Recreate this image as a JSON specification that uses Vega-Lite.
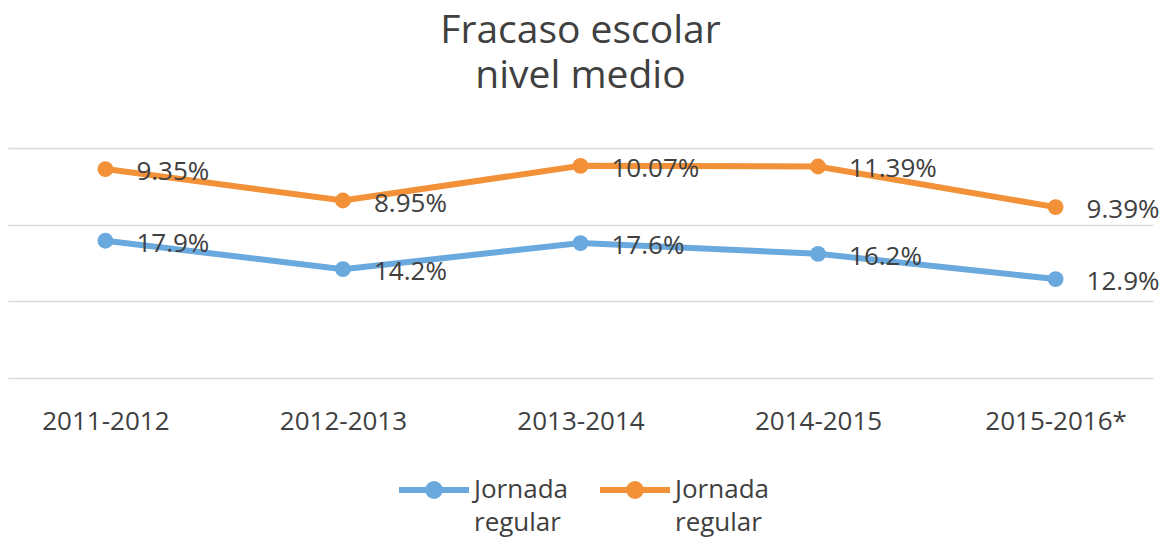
{
  "$schema": "https://vega.github.io/schema/vega-lite/v6.json",
  "width": 1145,
  "height": 230,
  "autosize": {"type": "none"},
  "padding": {"left": 8, "top": 148, "right": 15, "bottom": 160},
  "background": "white",
  "config": {"view": {"stroke": null}},
  "title": {
    "text": ["Fracaso escolar", "nivel medio"],
    "font": "Open Sans",
    "fontSize": 39,
    "fontWeight": "normal",
    "color": "#404040",
    "lineHeight": 45,
    "anchor": "middle",
    "offset": 52
  },
  "data": {
    "values": [
      {"periodo": "2011-2012", "serie": "Jornada regular 2", "valor": 17.9, "etiqueta": "17.9%"},
      {"periodo": "2012-2013", "serie": "Jornada regular 2", "valor": 14.2, "etiqueta": "14.2%"},
      {"periodo": "2013-2014", "serie": "Jornada regular 2", "valor": 17.6, "etiqueta": "17.6%"},
      {"periodo": "2014-2015", "serie": "Jornada regular 2", "valor": 16.2, "etiqueta": "16.2%"},
      {"periodo": "2015-2016*", "serie": "Jornada regular 2", "valor": 12.9, "etiqueta": "12.9%"},
      {"periodo": "2011-2012", "serie": "Jornada regular 1", "valor": 9.35, "etiqueta": "9.35%"},
      {"periodo": "2012-2013", "serie": "Jornada regular 1", "valor": 8.95, "etiqueta": "8.95%"},
      {"periodo": "2013-2014", "serie": "Jornada regular 1", "valor": 10.07, "etiqueta": "10.07%"},
      {"periodo": "2014-2015", "serie": "Jornada regular 1", "valor": 11.39, "etiqueta": "11.39%"},
      {"periodo": "2015-2016*", "serie": "Jornada regular 1", "valor": 9.39, "etiqueta": "9.39%"}
    ]
  },
  "encoding": {
    "x": {
      "field": "periodo",
      "type": "ordinal",
      "sort": null,
      "scale": {"type": "point", "padding": 0.41},
      "axis": {
        "title": null,
        "domain": false,
        "ticks": false,
        "grid": false,
        "labelAngle": 0,
        "labelFont": "Open Sans",
        "labelFontSize": 26,
        "labelColor": "#404040",
        "labelPadding": 30
      }
    },
    "y": {
      "field": "valor",
      "type": "quantitative",
      "stack": "zero",
      "scale": {"domain": [0, 30], "nice": false},
      "axis": {
        "title": null,
        "values": [0, 10, 20, 30],
        "labels": false,
        "ticks": false,
        "domain": false,
        "grid": true,
        "gridColor": "#d9d9d9",
        "gridWidth": 1.5
      }
    }
  },
  "layer": [
    {
      "mark": {"type": "line", "strokeWidth": 6, "strokeCap": "round"},
      "encoding": {
        "color": {
          "field": "serie",
          "type": "nominal",
          "scale": {"domain": ["Jornada regular 2", "Jornada regular 1"], "range": ["#6aa9de", "#f29138"]},
          "legend": {
            "orient": "none",
            "legendX": 388,
            "legendY": 304,
            "direction": "horizontal",
            "title": null,
            "symbolType": "M-1,0H1M-0.17,0A0.17,0.17,0,1,1,0.17,0A0.17,0.17,0,1,1,-0.17,0Z",
            "symbolSize": 4900,
            "symbolStrokeWidth": 6,
            "labelFont": "Open Sans",
            "labelFontSize": 26,
            "labelColor": "#404040",
            "labelOffset": 2,
            "columnPadding": 20,
            "labelExpr": "['Jornada', 'regular']",
            "encode": {
              "symbols": {"update": {"fill": {"scale": "color", "field": "value"}, "stroke": {"scale": "color", "field": "value"}, "opacity": {"value": 1}}},
              "labels": {"update": {"lineHeight": {"value": 33}, "baseline": {"value": "middle"}, "align": {"value": "left"}}}
            }
          }
        }
      }
    },
    {
      "mark": {"type": "point", "filled": true, "size": 250, "opacity": 1},
      "encoding": {
        "color": {"field": "serie", "type": "nominal", "legend": null},
        "order": {"field": "serie", "sort": "descending"}
      }
    },
    {
      "mark": {"type": "text", "align": "left", "baseline": "middle", "dx": 31, "dy": 3, "font": "Open Sans", "fontSize": 26, "color": "#404040"},
      "encoding": {
        "detail": {"field": "serie", "type": "nominal"},
        "order": {"field": "serie", "sort": "descending"},
        "text": {"field": "etiqueta", "type": "nominal"}
      }
    }
  ]
}
